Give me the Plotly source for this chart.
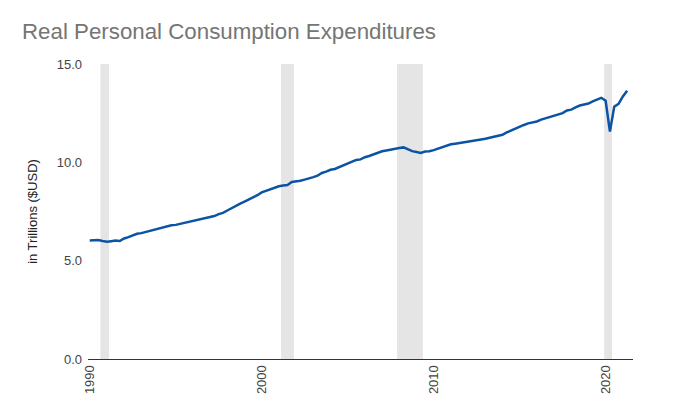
import pandas as pd
import plotly.graph_objects as go

# Real PCE, quarterly, trillions of USD, 1990Q1 - 2021Q2
pce = [
    6.02, 6.04, 6.05, 6.00,   # 1990
    5.96, 5.99, 6.02, 6.00,   # 1991
    6.13, 6.20, 6.29, 6.37,   # 1992
    6.40, 6.46, 6.53, 6.59,   # 1993
    6.65, 6.70, 6.74, 6.80,   # 1994
    6.82, 6.87, 6.92, 6.96,   # 1995
    7.01, 7.08, 7.12, 7.18,   # 1996
    7.24, 7.27, 7.37, 7.43,   # 1997
    7.55, 7.68, 7.79, 7.90,   # 1998
    8.00, 8.10, 8.21, 8.33,   # 1999
    8.47, 8.55, 8.63, 8.70,   # 2000
    8.78, 8.82, 8.85, 9.00,   # 2001
    9.02, 9.06, 9.12, 9.17,   # 2002
    9.25, 9.32, 9.46, 9.53,   # 2003
    9.62, 9.66, 9.75, 9.85,   # 2004
    9.94, 10.03, 10.12, 10.15,  # 2005
    10.26, 10.32, 10.39, 10.50,  # 2006
    10.56, 10.60, 10.65, 10.69,  # 2007
    10.73, 10.76, 10.66, 10.57,  # 2008
    10.53, 10.48, 10.55, 10.56,  # 2009
    10.62, 10.70, 10.78, 10.87,  # 2010
    10.92, 10.95, 10.98, 11.02,  # 2011
    11.06, 11.09, 11.12, 11.16,  # 2012
    11.20, 11.24, 11.29, 11.35,  # 2013
    11.40, 11.52, 11.62, 11.74,  # 2014
    11.81, 11.90, 11.98, 12.03,  # 2015
    12.08, 12.17, 12.24, 12.31,  # 2016
    12.36, 12.44, 12.50, 12.64,  # 2017
    12.68, 12.79, 12.89, 12.94,  # 2018
    12.99, 13.10, 13.20, 13.28,  # 2019
    13.13, 11.56, 12.83, 12.97,  # 2020
    13.35, 13.64,                # 2021
]
start_quarter = "1990-01-01"
dates = pd.date_range(start=start_quarter, periods=len(pce), freq="QS")

# Recession bands (start, end)
recession_starts = ["1990-08-15", "2001-02-15", "2007-11-15", "2019-12-01"]
recession_ends = ["1991-02-15", "2001-11-15", "2009-05-15", "2020-05-15"]

x_tick_vals = ["1990-01-01", "2000-01-01", "2010-01-01", "2020-01-01"]
x_tick_text = ["1990", "2000", "2010", "2020"]
y_tick_vals = [0, 5, 10, 15]
y_tick_text = ["0.0", "5.0", "10.0", "15.0"]

title_text = "Real Personal Consumption Expenditures"
y_title = "in Trillions ($USD)"

fig = go.Figure()
fig.add_trace(go.Scatter(
    x=dates, y=pce, mode="lines",
    line=dict(color="#0b53a5", width=2.5),
    hoverinfo="x+y", showlegend=False,
))

shapes = []
for s, e in zip(recession_starts, recession_ends):
    shapes.append(dict(
        type="rect", xref="x", yref="paper", x0=s, x1=e, y0=0, y1=1,
        fillcolor="#e5e5e5", line=dict(width=0), layer="below",
    ))

font_family = "Arial, Liberation Sans, sans-serif"
fig.update_layout(
    width=675, height=417,
    margin=dict(l=80, r=50, t=56, b=66),
    paper_bgcolor="white", plot_bgcolor="white",
    font=dict(family=font_family, size=12, color="#222222"),
    title=dict(
        text=title_text, xref="container", yref="container",
        x=14 / 675, xanchor="left", y=1 - 23 / 417, yanchor="middle",
        font=dict(family=font_family, size=22.3, color="#757575"),
    ),
    shapes=shapes,
    xaxis=dict(
        type="date", range=["1989-11-25", "2021-08-04"],
        tickvals=x_tick_vals, ticktext=x_tick_text, tickangle=-90,
        showgrid=False, zeroline=False,
        showline=True, linecolor="#333333", linewidth=1,
        ticks="", tickfont=dict(size=13, color="#444444"),
    ),
    yaxis=dict(
        range=[0, 15], tickvals=y_tick_vals, ticktext=y_tick_text,
        showgrid=False, zeroline=False, showline=False, ticks="",
        ticklabelstandoff=5,
        tickfont=dict(size=13, color="#444444"),
        title=dict(text=y_title, font=dict(size=13, color="#222222"), standoff=16),
    ),
)

fig.write_html("out.html")
